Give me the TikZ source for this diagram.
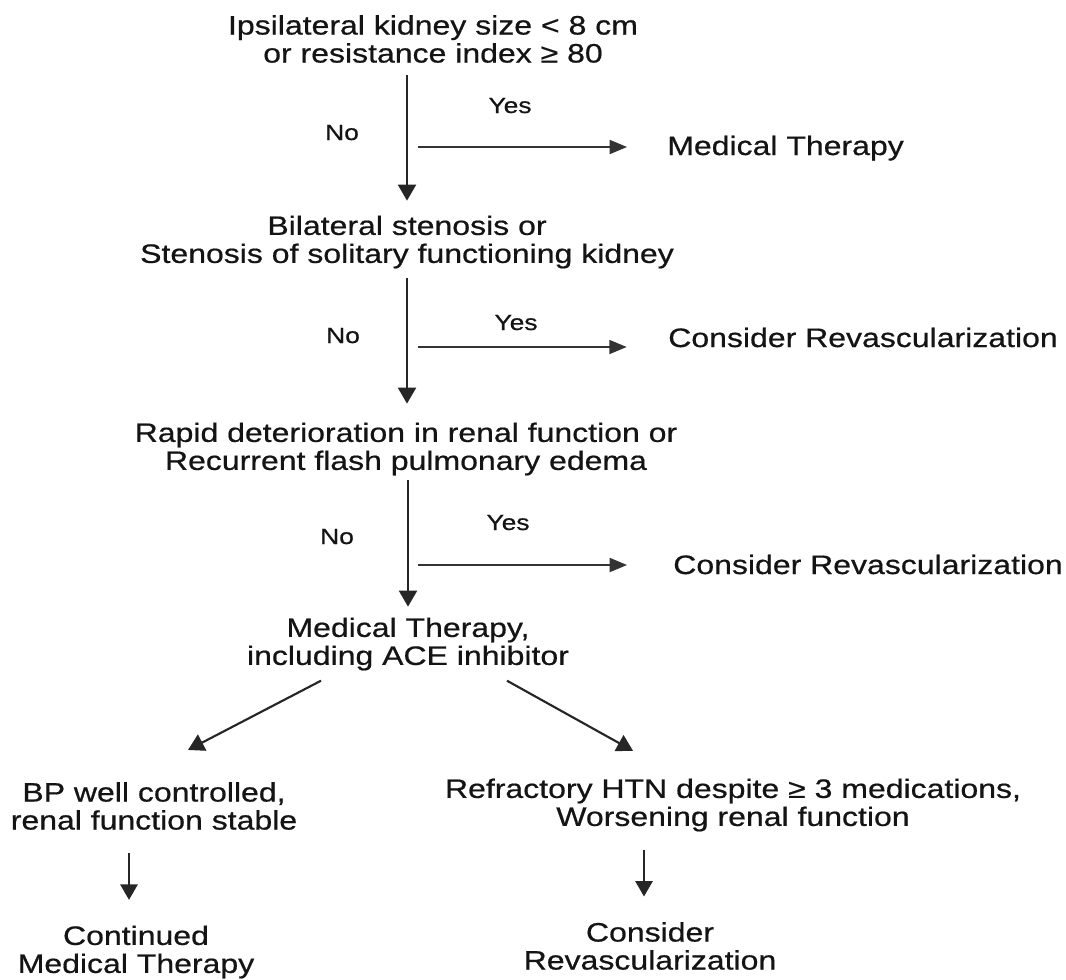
\documentclass[tikz,border=0pt]{standalone}
\usepackage{fontspec}
\setmainfont{Liberation Sans}[FakeStretch=1.2,FakeBold=0.6]
\usetikzlibrary{arrows.meta,calc}
\begin{document}
\begin{tikzpicture}[x=0.75pt,y=-0.75pt,
  txt/.style={font=\fontsize{20pt}{21pt}\selectfont, inner sep=0pt, align=center, text=black!92},
  lbl/.style={font=\fontsize{16.5pt}{18pt}\selectfont, inner sep=0pt, anchor=base, text=black!92},
  arr/.style={draw=black!85, line width=1.6pt, -{Triangle[length=12pt,width=13.5pt]}},
  harr/.style={draw=black!80, line width=1.3pt, -{Triangle[length=13pt,width=10.5pt]}},
  sarr/.style={draw=black!85, line width=1.2pt, -{Triangle[length=11.5pt,width=13pt]}},
]
\useasboundingbox (0,0) rectangle (1066,979);
\fill[white] (0,0) rectangle (1066,979);

% main column
\node[txt] (q1) at (433,39) {Ipsilateral kidney size < 8 cm\\or resistance index ≥ 80};
\node[txt] (q2) at (407,242) {Bilateral stenosis or\\Stenosis of solitary functioning kidney};
\node[txt] (q3) at (406,449) {Rapid deterioration in renal function or\\Recurrent flash pulmonary edema};
\node[txt] (q4) at (408,644) {Medical Therapy,\\including ACE inhibitor};
\node[txt] (q5) at (154,806) {BP well controlled,\\renal function stable};
\node[txt] (q6) at (733,805) {Refractory HTN despite ≥ 3 medications,\\Worsening renal function};
\node[txt] (q7) at (136,952) {Continued\\Medical Therapy};
\node[txt] (q8) at (650,946) {Consider\\Revascularization};

% right side outcomes
\node[txt, anchor=base west] (r1) at (667,155) {Medical Therapy};
\node[txt, anchor=base west] (r2) at (668,347) {Consider Revascularization};
\node[txt, anchor=base west] (r3) at (673,574) {Consider Revascularization};

% Yes / No labels
\node[lbl] (y1) at (510,113) {Yes};
\node[lbl] (n1) at (342,140) {No};
\node[lbl] (y2) at (516,330) {Yes};
\node[lbl] (n2) at (343,343) {No};
\node[lbl] (y3) at (508,530) {Yes};
\node[lbl] (n3) at (337,544) {No};

% vertical "No" arrows
\draw[arr, shorten <=9pt, shorten >=11pt] (q1.south -| q2.north) -- (q2.north);
\draw[arr, shorten <=7pt, shorten >=14pt] (q2.south) -- (q2.south |- q3.north);
\draw[arr, shorten <=3.5pt, shorten >=8pt] (q3.south -| q4.north) -- (q4.north);

% horizontal "Yes" arrows
\coordinate (h1) at (418,147);
\coordinate (h2) at (418,347);
\coordinate (h3) at (418,565);
\draw[harr, shorten >=30pt] (h1) -- (h1 -| r1.west);
\draw[harr, shorten >=31pt] (h2) -- (h2 -| r2.west);
\draw[harr, shorten >=34.5pt] (h3) -- (h3 -| r3.west);

% diagonal branches
\draw[arr] ($(q4.south)+(-87,10)$) -- ($(q5.north)+(34,-32)$);
\draw[arr] ($(q4.south)+(99,10)$) -- ($(q6.north)+(-100,-27.5)$);

% final arrows
\draw[sarr] ($(q5.south)+(-25,23)$) -- ($(q7.north)+(-7,-25.5)$);
\draw[sarr] ($(q6.south)+(-89,18.4)$) -- ($(q8.north)+(-6,-25.5)$);
\end{tikzpicture}
\end{document}
